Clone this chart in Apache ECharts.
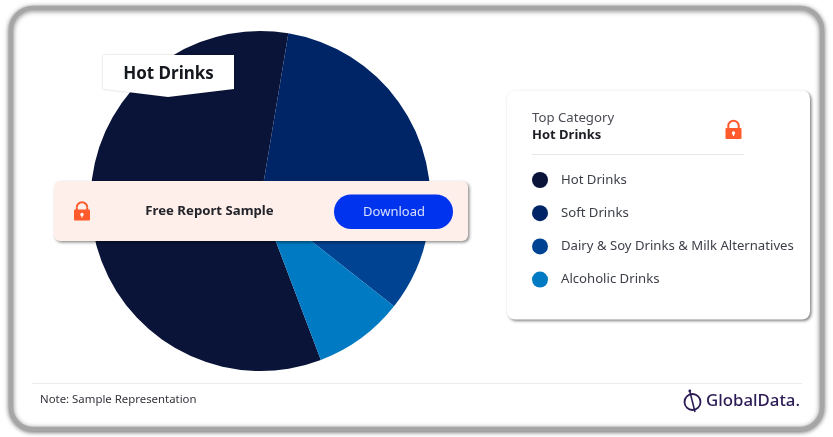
<!DOCTYPE html>
<html>
<head>
<meta charset="utf-8">
<style>html,body{margin:0;padding:0;background:#fff}#c{width:833px;height:437px}</style>
<script src="https://cdn.jsdelivr.net/npm/echarts@6/dist/echarts.min.js"></script>
</head>
<body>
<div id="c"></div>
<script>
const categories = ["Hot Drinks", "Soft Drinks", "Dairy & Soy Drinks & Milk Alternatives", "Alcoholic Drinks"];
const values = [58.4, 25.1, 7.9, 8.6];
const colors = ["#0a1438", "#002566", "#004393", "#007ac3"];
const FONT = "'Noto Sans', sans-serif";

function lock(x, y, s, z) {
  return [
    {type:'arc', z, shape:{cx:x+9*s, cy:y+7*s, r:5.2*s, startAngle:Math.PI, endAngle:0, clockwise:true},
     style:{stroke:'#ff5a2b', lineWidth:2*s, fill:null}},
    {type:'line', z, shape:{x1:x+3.8*s, y1:y+7*s, x2:x+3.8*s, y2:y+10*s}, style:{stroke:'#ff5a2b', lineWidth:2*s}},
    {type:'line', z, shape:{x1:x+14.2*s, y1:y+7*s, x2:x+14.2*s, y2:y+10*s}, style:{stroke:'#ff5a2b', lineWidth:2*s}},
    {type:'rect', z, shape:{x:x+1*s, y:y+9*s, width:16*s, height:11*s, r:1*s}, style:{fill:'#ff5a2b'}},
    {type:'circle', z, shape:{cx:x+9*s, cy:y+14*s, r:1.7*s}, style:{fill:'#fff'}},
    {type:'rect', z, shape:{x:x+8.4*s, y:y+14*s, width:1.2*s, height:3*s}, style:{fill:'#fff'}}
  ];
}

const chart = echarts.init(document.getElementById('c'), null, {renderer:'canvas'});
chart.setOption({
  animation:false,
  legend:{
    orient:'vertical', left:527, top:167, itemWidth:16, itemHeight:16, itemGap:17.2,
    icon:'circle', selectedMode:false, z:30,
    formatter:n=>n,
    textStyle:{fontFamily:FONT, fontSize:13.15, color:'#3c3f48', padding:[0,0,0,8]},
    data:categories
  },
  series:[{
    type:'pie', center:[260.5,201], radius:[0,170], startAngle:-69.2, clockwise:true,
    label:{show:false}, labelLine:{show:false}, silent:true, z:5,
    itemStyle:{borderWidth:0},
    data:categories.map((n,i)=>({name:n, value:values[i], itemStyle:{color:colors[i]}}))
  }],
  graphic:{elements:[
    {type:'rect', z:-1, silent:true, shape:{x:11,y:8,width:811,height:421,r:22},
     style:{fill:'#fff', stroke:'#a6a6a6', lineWidth:4.5, shadowBlur:5, shadowColor:'rgba(0,0,0,0.5)', shadowOffsetX:0, shadowOffsetY:1}},
    {type:'polygon', z:20, shape:{points:[[103,55],[234,55],[234,89],[168,97],[103,89]]},
     style:{fill:'#fff', shadowBlur:2, shadowColor:'rgba(0,0,0,0.25)'}},
    {type:'text', z:21, style:{text:'Hot Drinks', x:168.5, y:74, align:'center', verticalAlign:'middle',
      font:"700 17px "+FONT, fill:'#16181f'}},
    {type:'rect', z:20, shape:{x:54,y:181,width:414,height:60,r:6},
     style:{fill:'#ffefeb', shadowBlur:3, shadowColor:'rgba(0,0,0,0.45)', shadowOffsetX:1.5, shadowOffsetY:1.5}},
    {type:'text', z:21, style:{text:'Free Report Sample', x:209.5, y:211.5, align:'center', verticalAlign:'middle',
      font:"700 13.2px "+FONT, fill:'#22242a'}},
    {type:'rect', z:21, shape:{x:334,y:194.5,width:119,height:34.5,r:17}, style:{fill:'#0033ee'}},
    {type:'text', z:22, style:{text:'Download', x:394, y:212, align:'center', verticalAlign:'middle',
      font:"400 13px "+FONT, fill:'#d6e0ff'}},
    ...lock(73,200.5,1,22),
    {type:'rect', z:1, shape:{x:507,y:90.5,width:303,height:229,r:8},
     style:{fill:'#fff', shadowBlur:3, shadowColor:'rgba(0,0,0,0.5)', shadowOffsetX:1.5, shadowOffsetY:1.5}},
    {type:'text', z:21, style:{text:'Top Category', x:532, y:118.5, verticalAlign:'middle',
      font:"400 13.2px "+FONT, fill:'#4a4c54'}},
    {type:'text', z:21, style:{text:'Hot Drinks', x:532, y:135, verticalAlign:'middle',
      font:"700 13px "+FONT, fill:'#1c1e24'}},
    {type:'line', z:21, shape:{x1:532,y1:154.5,x2:744,y2:154.5}, style:{stroke:'#e6e6e6', lineWidth:1}},
    ...lock(724.5,119,1,22),
    {type:'line', z:21, shape:{x1:32,y1:383.5,x2:802,y2:383.5}, style:{stroke:'#ececec', lineWidth:1}},
    {type:'text', z:21, style:{text:'Note: Sample Representation', x:40, y:400, verticalAlign:'middle',
      font:"400 11.4px "+FONT, fill:'#33353b'}},
    {type:'circle', z:21, shape:{cx:692.5,cy:402,r:8}, style:{fill:null, stroke:'#2c1a55', lineWidth:1.8}},
    {type:'line', z:21, shape:{x1:690,y1:392,x2:695,y2:412}, style:{stroke:'#2c1a55', lineWidth:1.6}},
    {type:'circle', z:21, shape:{cx:689.8,cy:391,r:1.4}, style:{fill:'#2c1a55'}},
    {type:'text', z:21, style:{text:'GlobalData.', x:706, y:401.5, verticalAlign:'middle',
      font:"500 16.8px "+FONT, fill:'#2c1a55'}}
  ]}
});
</script>
</body>
</html>
